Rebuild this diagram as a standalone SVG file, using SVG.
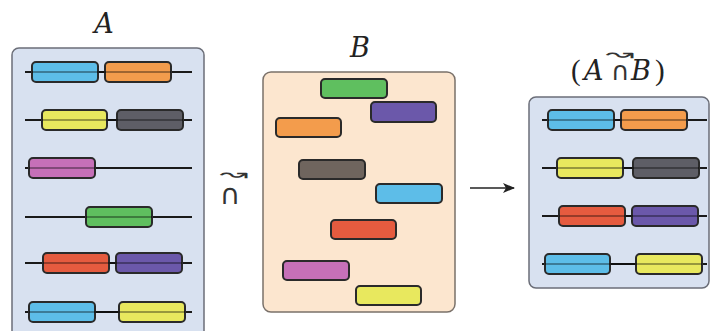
<svg xmlns="http://www.w3.org/2000/svg" width="711" height="331" viewBox="0 0 711 331">
<defs>
<style>
.panelA{fill:#d8e1f0;stroke:#6b6e78;stroke-width:1.5}
.panelB{fill:#fce6cf;stroke:#7a716a;stroke-width:1.5}
.ln{stroke:#1a1a1a;stroke-width:2;fill:none}
.inl{stroke:#000;stroke-opacity:0.35;stroke-width:2;fill:none}
.g{stroke:#2a2a2a;stroke-width:2}
.blue{fill:#5dbde8}.orange{fill:#f39c4c}.yellow{fill:#e8e85e}.gray{fill:#5e5e66}
.pink{fill:#c670b8}.green{fill:#5fbf5f}.red{fill:#e55b3f}.purple{fill:#6b58aa}.brown{fill:#6f655e}
.ttl{font-family:"DejaVu Serif","Liberation Serif",serif;font-style:italic;font-size:27px;fill:#222}
.sym{font-family:"DejaVu Sans","Liberation Sans",sans-serif;fill:#333;font-style:normal}
</style>
<marker id="ah" markerWidth="12" markerHeight="10" refX="11" refY="5" orient="auto" markerUnits="userSpaceOnUse">
<path d="M0,0 L12,5 L0,10 L3,5 Z" fill="#222"/>
</marker>
</defs>

<g id="titles">
<text class="ttl" x="104" y="33" text-anchor="middle">A</text>
<text class="ttl" x="360" y="57" text-anchor="middle">B</text>
<text class="ttl" y="80"><tspan x="571" font-style="normal" font-family="Liberation Serif" font-size="29">(</tspan><tspan x="584">A</tspan><tspan x="611" class="sym" font-size="26">∩</tspan><tspan x="631">B</tspan><tspan x="655" font-style="normal" font-family="Liberation Serif" font-size="29">)</tspan></text>
<text class="sym" font-size="18" text-anchor="middle" transform="translate(620,60) scale(1.9,1)">↝</text>
</g>

<g id="operator">
<text class="sym" x="230" y="204" font-size="28" text-anchor="middle">∩</text>
<text class="sym" font-size="18" text-anchor="middle" transform="translate(234,180) scale(1.9,1)">↝</text>
</g>

<g id="panelA">
<rect class="panelA" x="12" y="48" width="192" height="300" rx="7"/>
<line class="ln" x1="25" y1="72" x2="192" y2="72"/>
<rect class="g blue" x="32" y="62" width="66" height="20" rx="4"/>
<rect class="g orange" x="105" y="62" width="66" height="20" rx="4"/>
<line class="inl" x1="32" y1="72" x2="171" y2="72"/>
<line class="ln" x1="25" y1="120" x2="192" y2="120"/>
<rect class="g yellow" x="42" y="110" width="65" height="20" rx="4"/>
<rect class="g gray" x="117" y="110" width="66" height="20" rx="4"/>
<line class="inl" x1="42" y1="120" x2="183" y2="120"/>
<line class="ln" x1="25" y1="168" x2="192" y2="168"/>
<rect class="g pink" x="29" y="158" width="66" height="20" rx="4"/>
<line class="inl" x1="29" y1="168" x2="95" y2="168"/>
<line class="ln" x1="25" y1="217" x2="192" y2="217"/>
<rect class="g green" x="86" y="207" width="66" height="20" rx="4"/>
<line class="inl" x1="86" y1="217" x2="152" y2="217"/>
<line class="ln" x1="25" y1="263" x2="192" y2="263"/>
<rect class="g red" x="43" y="253" width="66" height="20" rx="4"/>
<rect class="g purple" x="116" y="253" width="66" height="20" rx="4"/>
<line class="inl" x1="43" y1="263" x2="182" y2="263"/>
<line class="ln" x1="25" y1="312" x2="192" y2="312"/>
<rect class="g blue" x="29" y="302" width="66" height="20" rx="4"/>
<rect class="g yellow" x="119" y="302" width="66" height="20" rx="4"/>
<line class="inl" x1="29" y1="312" x2="185" y2="312"/>
</g>

<g id="panelB">
<rect class="panelB" x="263" y="72" width="192" height="240" rx="8"/>
<rect class="g green" x="321" y="79" width="66" height="19" rx="4"/>
<rect class="g purple" x="371" y="102" width="65" height="20" rx="4"/>
<rect class="g orange" x="276" y="118" width="65" height="19" rx="4"/>
<rect class="g brown" x="299" y="160" width="66" height="19" rx="4"/>
<rect class="g blue" x="376" y="184" width="66" height="19" rx="4"/>
<rect class="g red" x="331" y="220" width="65" height="19" rx="4"/>
<rect class="g pink" x="283" y="261" width="66" height="19" rx="4"/>
<rect class="g yellow" x="356" y="286" width="65" height="19" rx="4"/>
</g>

<g id="panelR">
<rect class="panelA" x="529" y="97" width="180" height="191" rx="7"/>
<line class="ln" x1="542" y1="120" x2="707" y2="120"/>
<rect class="g blue" x="548" y="110" width="66" height="20" rx="4"/>
<rect class="g orange" x="621" y="110" width="66" height="20" rx="4"/>
<line class="inl" x1="548" y1="120" x2="687" y2="120"/>
<line class="ln" x1="542" y1="168" x2="707" y2="168"/>
<rect class="g yellow" x="557" y="158" width="66" height="20" rx="4"/>
<rect class="g gray" x="633" y="158" width="66" height="20" rx="4"/>
<line class="inl" x1="557" y1="168" x2="699" y2="168"/>
<line class="ln" x1="542" y1="216" x2="707" y2="216"/>
<rect class="g red" x="559" y="206" width="66" height="20" rx="4"/>
<rect class="g purple" x="632" y="206" width="66" height="20" rx="4"/>
<line class="inl" x1="559" y1="216" x2="698" y2="216"/>
<line class="ln" x1="542" y1="264" x2="707" y2="264"/>
<rect class="g blue" x="545" y="254" width="65" height="20" rx="4"/>
<rect class="g yellow" x="636" y="254" width="66" height="20" rx="4"/>
<line class="inl" x1="545" y1="264" x2="702" y2="264"/>
</g>

<g id="connectors">
<line x1="470" y1="188" x2="514" y2="188" stroke="#222" stroke-width="1.5" marker-end="url(#ah)"/>
</g>
</svg>
